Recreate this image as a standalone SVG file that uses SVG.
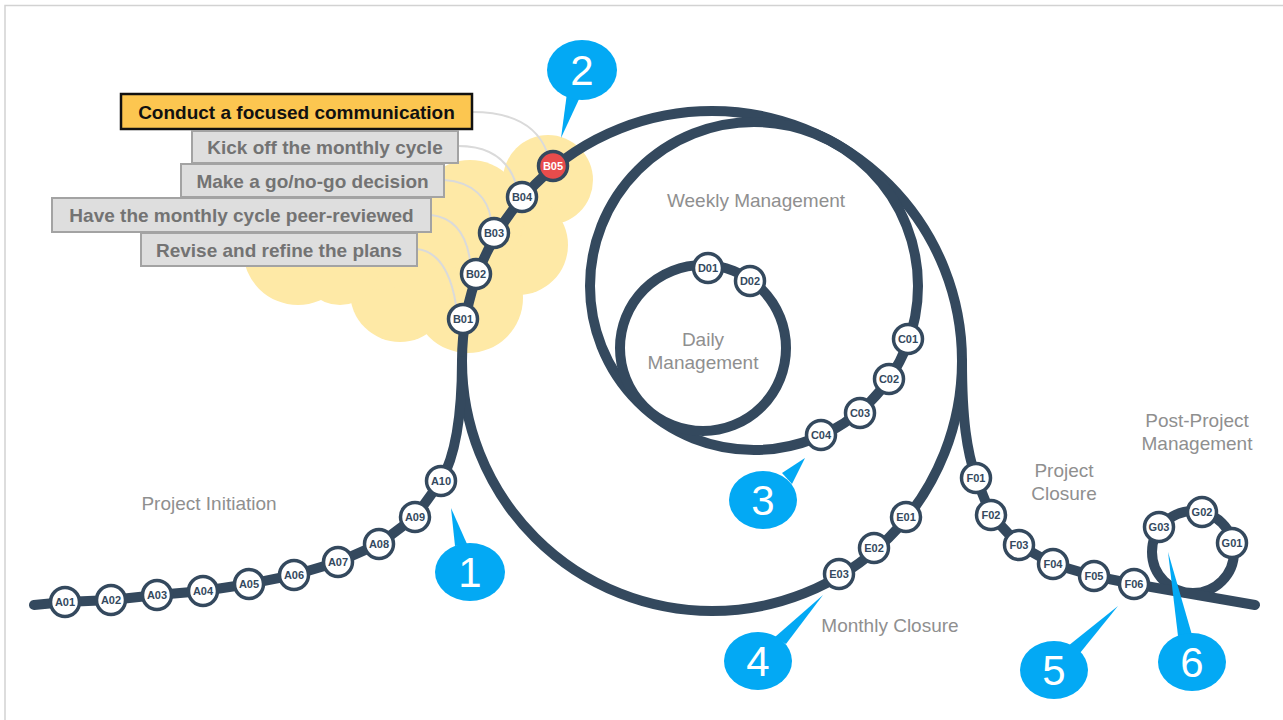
<svg xmlns="http://www.w3.org/2000/svg" width="1283" height="720" viewBox="0 0 1283 720">
<style>
.track{fill:none;stroke:#34495e;stroke-width:10;stroke-linecap:round;stroke-linejoin:round}
.node circle{fill:#fff;stroke:#34495e;stroke-width:3.5}
.node text{font-family:"Liberation Sans",Arial,sans-serif;font-weight:bold;font-size:11px;fill:#34495e;text-anchor:middle}
.node.red circle{fill:#e84c4c}
.node.red text{fill:#fff}
.sec{font-family:"Liberation Sans",Arial,sans-serif;font-size:19px;fill:#8f8f8f;text-anchor:middle}
.lbl rect{fill:#dedede;stroke:#a3a3a3;stroke-width:2}
.lbl text{font-family:"Liberation Sans",Arial,sans-serif;font-weight:bold;font-size:19px;fill:#737373;text-anchor:middle}
.lbl.hi rect{fill:#fcc650;stroke:#111;stroke-width:2.5}
.lbl.hi text{fill:#111}
.lead{fill:none;stroke:#dadada;stroke-width:2}
.call path{fill:#03a9f4}
.call text{font-family:"Liberation Sans",Arial,sans-serif;font-size:42px;fill:#fff;text-anchor:middle}
</style>
<rect x="5" y="5.5" width="1290" height="730" fill="#fff" stroke="#d2d2d2" stroke-width="1.5"/>

<g id="cloud" fill="#fee9a6">
<circle cx="548" cy="180" r="45"/>
<circle cx="518" cy="245" r="50"/>
<circle cx="468" cy="298" r="55"/>
<circle cx="400" cy="292" r="50"/>
<circle cx="298" cy="250" r="55"/>
<circle cx="470" cy="215" r="55"/>
<circle cx="380" cy="240" r="50"/>
<circle cx="340" cy="265" r="40"/>
</g>

<g id="connectors">
<circle class="track" cx="712" cy="361" r="250"/>
<circle class="track" cx="754" cy="286" r="164"/>
<circle class="track" cx="703" cy="348" r="83"/>
<circle class="track" cx="1193" cy="552" r="41"/>
<path class="track" d="M34,605 L65,602 L111,600 L157,595 L203,591 L249,584 L294,575 L338,562 L379,544 L415,517 L441,481 C452,462 462,430 462,361"/>
<path class="track" d="M962,361 C962,420 967,452 976,478 L991,515 L1019,545 L1053,564 L1094,576 L1134,584 L1255,605"/>
<path class="lead" d="M472,112 C515,112 538,128 547,152"/>
<path class="lead" d="M458,146 C495,146 510,165 516,184"/>
<path class="lead" d="M444,180 C475,182 488,200 491,219"/>
<path class="lead" d="M431,215 C458,218 467,240 470,260"/>
<path class="lead" d="M417,249 C443,252 452,280 456,305"/>
</g>

<g id="labels">
<g id="lbl1" class="lbl hi"><rect x="121" y="94" width="351" height="35"/><text x="296.5" y="119">Conduct a focused communication</text></g>
<g id="lbl2" class="lbl"><rect x="192" y="131" width="266" height="32"/><text x="325" y="154">Kick off the monthly cycle</text></g>
<g id="lbl3" class="lbl"><rect x="181" y="164" width="263" height="33"/><text x="312.5" y="188">Make a go/no-go decision</text></g>
<g id="lbl4" class="lbl"><rect x="52" y="198" width="379" height="34"/><text x="241.5" y="222">Have the monthly cycle peer-reviewed</text></g>
<g id="lbl5" class="lbl"><rect x="141" y="233" width="276" height="33"/><text x="279" y="257">Revise and refine the plans</text></g>
</g>

<g id="sections">
<text class="sec" x="209" y="510">Project Initiation</text>
<text class="sec" x="756" y="207">Weekly Management</text>
<text class="sec" x="703" y="346">Daily</text>
<text class="sec" x="703" y="369">Management</text>
<text class="sec" x="890" y="632">Monthly Closure</text>
<text class="sec" x="1064" y="477">Project</text>
<text class="sec" x="1064" y="500">Closure</text>
<text class="sec" x="1197" y="427">Post-Project</text>
<text class="sec" x="1197" y="450">Management</text>
</g>

<g id="nodes">
<g id="A01" class="node"><circle cx="65" cy="602" r="14.5"/><text x="65" y="606">A01</text></g>
<g id="A02" class="node"><circle cx="111" cy="600" r="14.5"/><text x="111" y="604">A02</text></g>
<g id="A03" class="node"><circle cx="157" cy="595" r="14.5"/><text x="157" y="599">A03</text></g>
<g id="A04" class="node"><circle cx="203" cy="591" r="14.5"/><text x="203" y="595">A04</text></g>
<g id="A05" class="node"><circle cx="249" cy="584" r="14.5"/><text x="249" y="588">A05</text></g>
<g id="A06" class="node"><circle cx="294" cy="575" r="14.5"/><text x="294" y="579">A06</text></g>
<g id="A07" class="node"><circle cx="338" cy="562" r="14.5"/><text x="338" y="566">A07</text></g>
<g id="A08" class="node"><circle cx="379" cy="544" r="14.5"/><text x="379" y="548">A08</text></g>
<g id="A09" class="node"><circle cx="415" cy="517" r="14.5"/><text x="415" y="521">A09</text></g>
<g id="A10" class="node"><circle cx="441" cy="481" r="14.5"/><text x="441" y="485">A10</text></g>
<g id="B01" class="node"><circle cx="463" cy="319" r="14.5"/><text x="463" y="323">B01</text></g>
<g id="B02" class="node"><circle cx="476" cy="274" r="14.5"/><text x="476" y="278">B02</text></g>
<g id="B03" class="node"><circle cx="494" cy="233" r="14.5"/><text x="494" y="237">B03</text></g>
<g id="B04" class="node"><circle cx="522" cy="197" r="14.5"/><text x="522" y="201">B04</text></g>
<g id="B05" class="node red"><circle cx="553" cy="166" r="14.5"/><text x="553" y="170">B05</text></g>
<g id="C01" class="node"><circle cx="908" cy="339" r="14.5"/><text x="908" y="343">C01</text></g>
<g id="C02" class="node"><circle cx="889" cy="379" r="14.5"/><text x="889" y="383">C02</text></g>
<g id="C03" class="node"><circle cx="860" cy="413" r="14.5"/><text x="860" y="417">C03</text></g>
<g id="C04" class="node"><circle cx="821" cy="435" r="14.5"/><text x="821" y="439">C04</text></g>
<g id="D01" class="node"><circle cx="708" cy="268" r="14.5"/><text x="708" y="272">D01</text></g>
<g id="D02" class="node"><circle cx="750" cy="281" r="14.5"/><text x="750" y="285">D02</text></g>
<g id="E01" class="node"><circle cx="906" cy="517" r="14.5"/><text x="906" y="521">E01</text></g>
<g id="E02" class="node"><circle cx="874" cy="548" r="14.5"/><text x="874" y="552">E02</text></g>
<g id="E03" class="node"><circle cx="839" cy="574" r="14.5"/><text x="839" y="578">E03</text></g>
<g id="F01" class="node"><circle cx="976" cy="478" r="14.5"/><text x="976" y="482">F01</text></g>
<g id="F02" class="node"><circle cx="991" cy="515" r="14.5"/><text x="991" y="519">F02</text></g>
<g id="F03" class="node"><circle cx="1019" cy="545" r="14.5"/><text x="1019" y="549">F03</text></g>
<g id="F04" class="node"><circle cx="1053" cy="564" r="14.5"/><text x="1053" y="568">F04</text></g>
<g id="F05" class="node"><circle cx="1094" cy="576" r="14.5"/><text x="1094" y="580">F05</text></g>
<g id="F06" class="node"><circle cx="1134" cy="584" r="14.5"/><text x="1134" y="588">F06</text></g>
<g id="G01" class="node"><circle cx="1232" cy="543" r="14.5"/><text x="1232" y="547">G01</text></g>
<g id="G02" class="node"><circle cx="1202" cy="512" r="14.5"/><text x="1202" y="516">G02</text></g>
<g id="G03" class="node"><circle cx="1159" cy="527" r="14.5"/><text x="1159" y="531">G03</text></g>
</g>

<g id="callouts">
<g id="call1" class="call"><path d="M451,508 L467,544 L455,546 Z"/><path d="M435,572 a35,29 0 1,0 70,0 a35,29 0 1,0 -70,0 Z"/><text x="470" y="587">1</text></g>
<g id="call2" class="call"><path d="M561,138 L567,93 L580,97 Z"/><path d="M547,70 a35,30 0 1,0 70,0 a35,30 0 1,0 -70,0 Z"/><text x="582" y="85">2</text></g>
<g id="call3" class="call"><path d="M805,458 L782,473 L792,484 Z"/><path d="M729,500 a34,29 0 1,0 68,0 a34,29 0 1,0 -68,0 Z"/><text x="763" y="515">3</text></g>
<g id="call4" class="call"><path d="M823,595 L775,637 L786,644 Z"/><path d="M724,661 a34,29 0 1,0 68,0 a34,29 0 1,0 -68,0 Z"/><text x="758" y="676">4</text></g>
<g id="call5" class="call"><path d="M1118,606 L1068,646 L1080,653 Z"/><path d="M1020,670 a34,29 0 1,0 68,0 a34,29 0 1,0 -68,0 Z"/><text x="1054" y="685">5</text></g>
<g id="call6" class="call"><path d="M1168,552 L1178,636 L1192,635 Z"/><path d="M1158,662 a34,29 0 1,0 68,0 a34,29 0 1,0 -68,0 Z"/><text x="1192" y="677">6</text></g>
</g>
</svg>
